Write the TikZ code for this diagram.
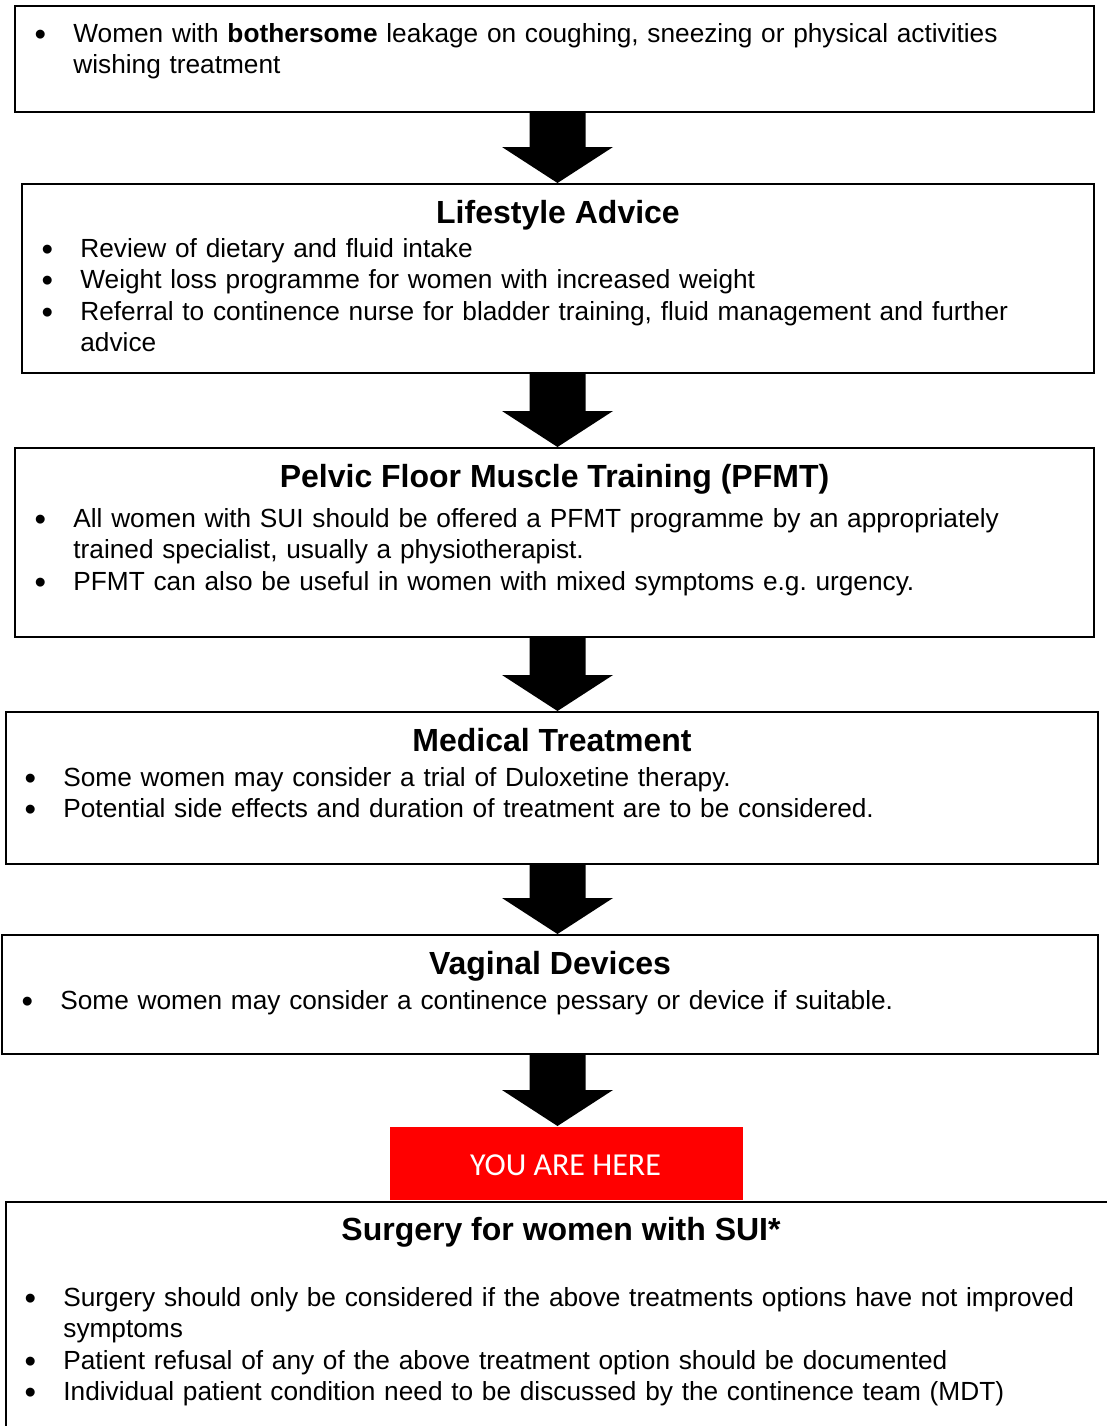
\documentclass[tikz,border=0pt]{standalone}
\usepackage{fontspec}
\setmainfont{Liberation Sans}
\newfontfamily\herefont{Carlito}
\usetikzlibrary{calc}
\frenchspacing
\hyphenpenalty=10000

%% bullet line with hanging indent
\newcommand{\bul}[1]{\hangindent=33pt\hangafter=1\noindent\makebox[33pt][c]{\raisebox{-1.5pt}{\scalebox{1.25}{\textbullet}}}#1\par}
%% fat arrow from one box down to the next
\newcommand{\blockarrow}[2]{%
  \fill ($(#1.south -| ax)+(-28,0)$) -- ($(#2.north -| ax)+(-28,-36)$)
    -- ($(#2.north -| ax)+(-55.5,-36)$) -- (#2.north -| ax)
    -- ($(#2.north -| ax)+(55.5,-36)$) -- ($(#2.north -| ax)+(28,-36)$)
    -- ($(#1.south -| ax)+(28,0)$) -- cycle;}

\begin{document}
\begin{tikzpicture}[x=0.5pt,y=-0.5pt,
    box/.style={rectangle,draw,line width=1pt,anchor=north west,inner sep=0pt},
    wh/.style 2 args={minimum width=#1*0.5pt,minimum height=#2*0.5pt},
    head/.style={font=\fontsize{16}{19}\selectfont\bfseries,anchor=base,inner sep=0pt},
    body/.style={font=\fontsize{13.12}{15.75}\selectfont,
      anchor=base west,inner sep=0pt,text width=620pt,align=left}]
  \useasboundingbox (0,0) rectangle (1107,1426);
  \clip (0,0) rectangle (1107,1426);

  \coordinate (ax) at (557.5,0);

  \node[box,wh={1079}{106}] (top) at (14,5) {};
  \node[box,wh={1072}{189}] (life) at (21,183) {};
  \node[box,wh={1079}{189}] (pfmt) at (14,447) {};
  \node[box,wh={1092}{152}] (med) at (5,711) {};
  \node[box,wh={1096}{119}] (vag) at (1,934) {};
  \node[box,wh={353}{73},draw=none,fill=red] (here) at (389,1126) {};
  \node[box,wh={1110}{240}] (surg) at (5,1201) {};

  %% headings
  \node[head] (lifeT) at ($(life.north)+(0,40)$) {Lifestyle Advice};
  \node[head] (pfmtT) at ($(pfmt.north)+(0,40)$) {Pelvic Floor Muscle Training (PFMT)};
  \node[head] (medT) at ($(med.north)+(0,40)$) {Medical Treatment};
  \node[head] (vagT) at ($(vag.north)+(0,40)$) {Vaginal Devices};
  \node[head] (surgT) at ($(surg.north)+(0,39)$) {Surgery for women with SUI*};
  \node[font=\herefont\fontsize{16}{19}\selectfont,text=white] (hereT) at ($(here.center)+(-1,2)$) {YOU ARE HERE};

  %% bullet texts
  \node[body] (topB) at ($(top.north west)+(-7,37)$) {%
    \bul{Women with \textbf{bothersome} leakage on coughing, sneezing or physical activities\newline wishing treatment}};
  \node[body] (lifeB) at ($(life.north west)+(-7,74)$) {%
    \bul{Review of dietary and fluid intake}
    \bul{Weight loss programme for women with increased weight}
    \bul{Referral to continence nurse for bladder training, fluid management and further\newline advice}};
  \node[body] (pfmtB) at ($(pfmt.north west)+(-7,80)$) {%
    \bul{All women with SUI should be offered a PFMT programme by an appropriately\newline trained specialist, usually a physiotherapist.}
    \bul{PFMT can also be useful in women with mixed symptoms e.g. urgency.}};
  \node[body] (medB) at ($(med.north west)+(-8,75)$) {%
    \bul{Some women may consider a trial of Duloxetine therapy.}
    \bul{Potential side effects and duration of treatment are to be considered.}};
  \node[body] (vagB) at ($(vag.north west)+(-7,75)$) {%
    \bul{Some women may consider a continence pessary or device if suitable.}};
  \node[body] (surgB) at ($(surg.north west)+(-8,105)$) {%
    \bul{Surgery should only be considered if the above treatments options have not improved\newline symptoms}
    \bul{Patient refusal of any of the above treatment option should be documented}
    \bul{Individual patient condition need to be discussed by the continence team (MDT)}};

  %% arrows between the steps
  \blockarrow{top}{life}
  \blockarrow{life}{pfmt}
  \blockarrow{pfmt}{med}
  \blockarrow{med}{vag}
  \blockarrow{vag}{here}
\end{tikzpicture}
\end{document}
